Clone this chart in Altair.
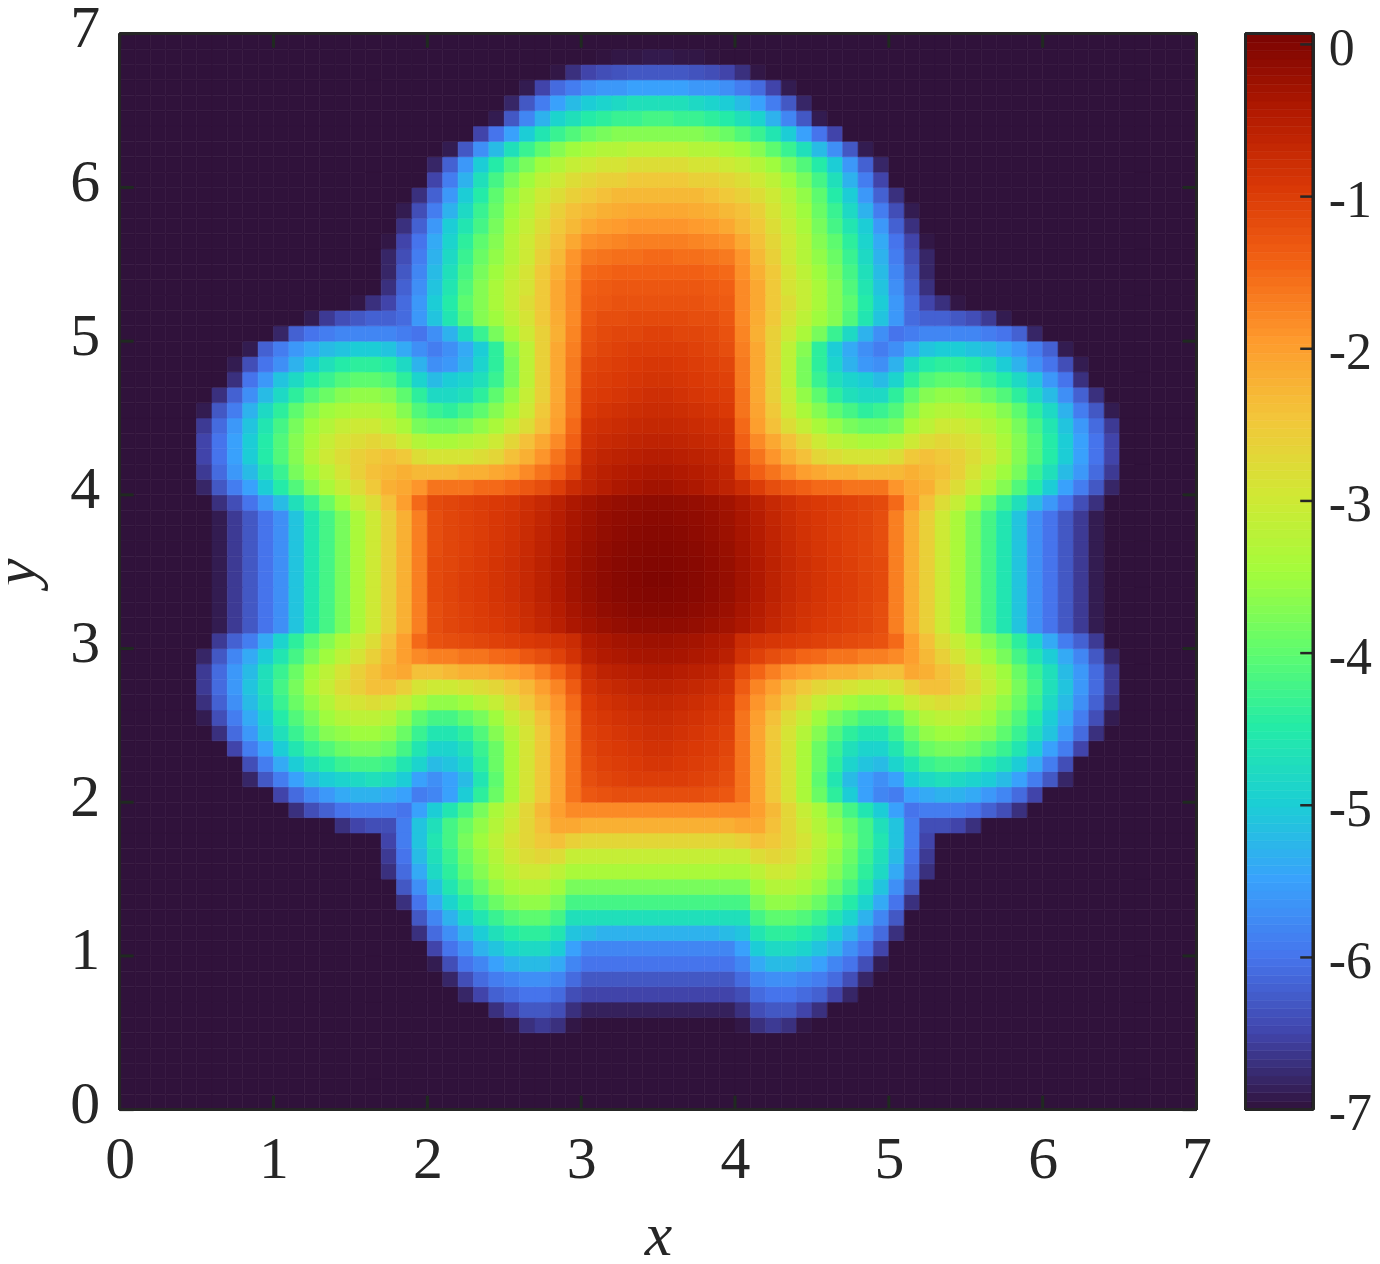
import altair as alt
import numpy as np
import pandas as pd

# Values on a 0.1 grid. Each row runs rightwards and ends at x = 3.45;
# cells left of its first entry are background. The field is mirrored about x = 3.5.
BACKGROUND = -7.0
field_rows = {
 6.85: [-6.98,-6.95,-6.95,-6.92],
 6.75: [-6.95,-6.7,-6.5,-6.4,-6.35,-6.3,-6.3],
 6.65: [-6.9,-6.5,-6.1,-5.9,-5.7,-5.6,-5.6,-5.5,-5.5],
 6.55: [-6.8,-6.3,-5.9,-5.5,-5.2,-5.0,-4.9,-4.8,-4.7,-4.7],
 6.45: [-6.9,-6.3,-5.8,-5.3,-4.9,-4.7,-4.5,-4.4,-4.3,-4.3,-4.2],
 6.35: [-7.0,-6.5,-6.0,-5.5,-5.0,-4.6,-4.3,-4.1,-3.9,-3.8,-3.7,-3.7,-3.7],
 6.25: [-6.9,-6.3,-5.7,-5.2,-4.7,-4.3,-4.0,-3.7,-3.5,-3.4,-3.3,-3.3,-3.2,-3.2],
 6.15: [-6.8,-6.2,-5.6,-5.0,-4.5,-4.1,-3.8,-3.5,-3.3,-3.1,-3.0,-2.9,-2.9,-2.8,-2.8],
 6.05: [-6.5,-5.9,-5.3,-4.7,-4.2,-3.8,-3.5,-3.2,-3.0,-2.8,-2.7,-2.6,-2.6,-2.5,-2.5],
 5.95: [-6.7,-6.2,-5.6,-5.0,-4.5,-4.0,-3.6,-3.3,-3.0,-2.8,-2.6,-2.5,-2.4,-2.3,-2.3,-2.3],
 5.85: [-6.9,-6.4,-5.9,-5.3,-4.8,-4.3,-3.9,-3.5,-3.2,-2.9,-2.6,-2.4,-2.3,-2.2,-2.15,-2.1,-2.1],
 5.75: [-6.7,-6.2,-5.6,-5.0,-4.6,-4.2,-3.8,-3.4,-3.1,-2.8,-2.5,-2.3,-2.1,-2.0,-1.95,-1.9,-1.9],
 5.65: [-6.95,-6.5,-6.0,-5.4,-4.9,-4.4,-4.0,-3.7,-3.3,-3.0,-2.7,-2.4,-2.1,-1.85,-1.8,-1.75,-1.7,-1.7],
 5.55: [-6.8,-6.4,-5.9,-5.3,-4.8,-4.3,-3.9,-3.6,-3.3,-3.0,-2.6,-2.3,-1.9,-1.65,-1.6,-1.55,-1.55,-1.5],
 5.45: [-6.8,-6.3,-5.8,-5.2,-4.7,-4.2,-3.8,-3.5,-3.2,-2.9,-2.5,-2.2,-1.85,-1.5,-1.45,-1.4,-1.4,-1.4],
 5.35: [-7.0,-6.7,-6.2,-5.7,-5.1,-4.6,-4.1,-3.7,-3.4,-3.1,-2.9,-2.5,-2.1,-1.8,-1.4,-1.35,-1.3,-1.3,-1.3],
 5.25: [-6.95,-6.7,-6.5,-6.1,-5.6,-5.0,-4.5,-4.0,-3.7,-3.4,-3.1,-2.8,-2.5,-2.1,-1.8,-1.35,-1.3,-1.25,-1.25,-1.25],
 5.15: [-6.9,-6.6,-6.4,-6.3,-6.2,-6.2,-6.1,-5.6,-5.1,-4.6,-4.1,-3.7,-3.5,-3.2,-2.9,-2.5,-2.15,-1.8,-1.3,-1.2,-1.2,-1.15,-1.15],
 5.05: [-6.8,-6.2,-6.0,-5.9,-5.8,-5.8,-5.8,-5.8,-5.9,-6.0,-5.7,-5.3,-4.8,-4.3,-3.8,-3.4,-3.0,-2.6,-2.2,-1.75,-1.25,-1.15,-1.1,-1.1,-1.05],
 4.95: [-6.9,-6.2,-5.9,-5.6,-5.4,-5.2,-5.1,-5.0,-5.0,-5.1,-5.4,-5.7,-5.9,-5.7,-5.4,-5.0,-4.4,-3.7,-3.2,-2.6,-2.1,-1.7,-1.2,-1.1,-1.05,-1.0,-1.0],
 4.85: [-6.9,-6.4,-6.0,-5.7,-5.3,-5.0,-4.7,-4.5,-4.4,-4.4,-4.5,-4.8,-5.3,-5.7,-5.6,-5.3,-4.9,-4.4,-3.8,-3.2,-2.6,-2.1,-1.65,-1.1,-1.05,-1.0,-0.95,-0.92],
 4.75: [-6.7,-6.0,-5.6,-5.1,-4.8,-4.5,-4.3,-4.1,-4.0,-4.0,-4.1,-4.4,-4.9,-5.2,-5.0,-4.9,-4.7,-4.3,-3.8,-3.2,-2.6,-2.1,-1.65,-1.05,-1.0,-0.95,-0.9,-0.87],
 4.65: [-6.7,-6.2,-5.7,-5.2,-4.8,-4.4,-4.1,-3.9,-3.7,-3.6,-3.6,-3.7,-4.0,-4.4,-4.8,-4.8,-4.7,-4.4,-4.0,-3.6,-3.1,-2.6,-2.1,-1.6,-1.0,-0.95,-0.9,-0.85,-0.8],
 4.55: [-6.9,-6.3,-5.9,-5.3,-4.8,-4.4,-4.0,-3.7,-3.5,-3.4,-3.3,-3.3,-3.4,-3.7,-4.1,-4.3,-4.4,-4.2,-4.0,-3.7,-3.4,-3.0,-2.5,-2.05,-1.6,-0.95,-0.88,-0.83,-0.78,-0.75],
 4.45: [-6.6,-6.1,-5.6,-5.1,-4.6,-4.2,-3.8,-3.5,-3.3,-3.1,-3.0,-3.0,-3.2,-3.4,-3.8,-3.9,-3.9,-3.8,-3.6,-3.4,-3.1,-2.8,-2.4,-2.0,-1.5,-0.85,-0.8,-0.75,-0.7,-0.68],
 4.35: [-6.5,-6.0,-5.5,-5.0,-4.5,-4.1,-3.7,-3.4,-3.1,-2.9,-2.8,-2.7,-2.8,-3.0,-3.3,-3.4,-3.4,-3.3,-3.2,-3.0,-2.7,-2.4,-2.1,-1.8,-1.4,-0.8,-0.72,-0.68,-0.63,-0.6],
 4.25: [-6.5,-6.0,-5.5,-5.0,-4.5,-4.1,-3.7,-3.3,-3.0,-2.8,-2.6,-2.5,-2.4,-2.5,-2.8,-2.9,-2.9,-2.9,-2.8,-2.7,-2.4,-2.2,-1.9,-1.6,-1.25,-0.72,-0.63,-0.58,-0.54,-0.5],
 4.15: [-6.6,-6.1,-5.6,-5.2,-4.7,-4.3,-3.8,-3.5,-3.2,-2.9,-2.6,-2.4,-2.3,-2.2,-2.3,-2.3,-2.3,-2.2,-2.2,-2.1,-2.0,-1.8,-1.6,-1.4,-1.1,-0.65,-0.55,-0.48,-0.44,-0.4],
 4.05: [-6.8,-6.3,-5.9,-5.5,-5.0,-4.5,-4.1,-3.7,-3.4,-3.1,-2.8,-2.5,-2.2,-2.1,-1.9,-1.6,-1.6,-1.6,-1.5,-1.5,-1.4,-1.3,-1.2,-1.0,-0.75,-0.6,-0.5,-0.4,-0.35,-0.3],
 3.95: [-6.7,-6.4,-6.0,-5.6,-5.2,-4.7,-4.3,-3.9,-3.5,-3.1,-2.8,-2.4,-2.0,-1.5,-1.15,-1.1,-1.05,-1.0,-0.95,-0.9,-0.8,-0.7,-0.55,-0.4,-0.3,-0.22,-0.18,-0.14,-0.12],
 3.85: [-6.9,-6.6,-6.3,-6.0,-5.7,-5.1,-4.6,-4.2,-3.8,-3.4,-3.0,-2.6,-2.2,-1.7,-1.2,-1.1,-1.05,-1.0,-0.93,-0.86,-0.76,-0.65,-0.5,-0.36,-0.26,-0.18,-0.13,-0.1,-0.08],
 3.75: [-6.9,-6.6,-6.3,-6.0,-5.7,-5.1,-4.6,-4.2,-3.8,-3.4,-3.0,-2.6,-2.2,-1.7,-1.2,-1.1,-1.05,-1.0,-0.92,-0.85,-0.74,-0.62,-0.48,-0.34,-0.24,-0.16,-0.11,-0.07,-0.05],
 3.65: [-6.9,-6.6,-6.3,-6.0,-5.7,-5.1,-4.6,-4.2,-3.8,-3.4,-3.0,-2.6,-2.2,-1.7,-1.2,-1.1,-1.05,-0.98,-0.9,-0.83,-0.72,-0.6,-0.46,-0.32,-0.21,-0.13,-0.08,-0.04,-0.02],
 3.55: [-6.9,-6.6,-6.3,-6.0,-5.7,-5.1,-4.6,-4.2,-3.8,-3.4,-3.0,-2.6,-2.2,-1.7,-1.15,-1.1,-1.02,-0.96,-0.88,-0.8,-0.7,-0.58,-0.44,-0.3,-0.19,-0.11,-0.06,-0.02,0.0],
 3.45: [-6.9,-6.6,-6.3,-6.0,-5.7,-5.1,-4.6,-4.2,-3.8,-3.4,-3.0,-2.6,-2.2,-1.7,-1.15,-1.08,-1.0,-0.95,-0.87,-0.8,-0.7,-0.58,-0.43,-0.29,-0.18,-0.1,-0.05,-0.01,0.02],
 3.35: [-6.9,-6.6,-6.3,-6.0,-5.7,-5.1,-4.6,-4.2,-3.8,-3.4,-3.0,-2.6,-2.2,-1.7,-1.15,-1.08,-1.0,-0.95,-0.88,-0.8,-0.7,-0.58,-0.44,-0.3,-0.19,-0.11,-0.06,-0.02,0.0],
 3.25: [-6.9,-6.6,-6.3,-6.0,-5.7,-5.1,-4.6,-4.2,-3.8,-3.4,-3.0,-2.6,-2.2,-1.7,-1.2,-1.1,-1.03,-0.98,-0.9,-0.84,-0.74,-0.62,-0.48,-0.34,-0.23,-0.15,-0.1,-0.06,-0.04],
 3.15: [-6.9,-6.6,-6.3,-6.0,-5.7,-5.1,-4.6,-4.2,-3.8,-3.4,-3.0,-2.6,-2.2,-1.7,-1.2,-1.1,-1.05,-1.0,-0.95,-0.88,-0.78,-0.67,-0.53,-0.39,-0.3,-0.22,-0.17,-0.13,-0.12],
 3.05: [-7.0,-6.6,-6.2,-5.9,-5.4,-4.9,-4.4,-4.0,-3.7,-3.4,-3.1,-2.8,-2.4,-2.0,-1.5,-1.25,-1.2,-1.15,-1.1,-1.05,-1.0,-0.95,-0.9,-0.85,-0.75,-0.45,-0.38,-0.32,-0.28,-0.25],
 2.95: [-6.8,-6.3,-5.8,-5.4,-5.0,-4.6,-4.2,-3.8,-3.5,-3.2,-2.9,-2.6,-2.3,-2.0,-1.8,-1.7,-1.7,-1.6,-1.6,-1.5,-1.45,-1.3,-1.2,-1.05,-0.85,-0.55,-0.45,-0.4,-0.35,-0.33],
 2.85: [-6.6,-6.1,-5.6,-5.2,-4.7,-4.3,-3.9,-3.5,-3.2,-2.9,-2.6,-2.4,-2.2,-2.1,-2.4,-2.4,-2.3,-2.2,-2.2,-2.1,-2.0,-1.9,-1.7,-1.45,-1.15,-0.75,-0.6,-0.55,-0.5,-0.45],
 2.75: [-6.6,-6.1,-5.6,-5.1,-4.7,-4.2,-3.8,-3.4,-3.1,-2.8,-2.6,-2.4,-2.4,-2.6,-2.9,-3.0,-3.0,-2.9,-2.8,-2.7,-2.5,-2.3,-2.0,-1.75,-1.35,-0.85,-0.75,-0.68,-0.62,-0.58],
 2.65: [-6.7,-6.2,-5.7,-5.2,-4.8,-4.3,-3.9,-3.6,-3.3,-3.0,-2.9,-2.8,-2.9,-3.1,-3.4,-3.6,-3.6,-3.5,-3.3,-3.1,-2.8,-2.5,-2.2,-1.9,-1.5,-0.95,-0.85,-0.78,-0.72,-0.68],
 2.55: [-6.9,-6.4,-5.9,-5.4,-5.0,-4.5,-4.1,-3.8,-3.5,-3.3,-3.2,-3.2,-3.3,-3.6,-4.0,-4.2,-4.2,-4.0,-3.8,-3.5,-3.1,-2.8,-2.4,-2.0,-1.6,-1.0,-0.92,-0.85,-0.8,-0.75],
 2.45: [-6.7,-6.1,-5.6,-5.1,-4.7,-4.3,-4.0,-3.7,-3.6,-3.5,-3.5,-3.6,-3.9,-4.3,-4.6,-4.6,-4.4,-4.1,-3.7,-3.3,-2.9,-2.5,-2.05,-1.6,-1.05,-0.97,-0.9,-0.85,-0.8],
 2.35: [-7.0,-6.5,-5.9,-5.5,-5.0,-4.6,-4.3,-4.1,-3.9,-3.8,-3.8,-3.9,-4.2,-4.6,-4.9,-4.9,-4.7,-4.3,-3.9,-3.4,-2.9,-2.5,-2.05,-1.6,-1.1,-1.0,-0.95,-0.9,-0.85],
 2.25: [-7.0,-6.4,-5.9,-5.4,-5.0,-4.7,-4.5,-4.3,-4.2,-4.2,-4.3,-4.6,-4.9,-5.2,-5.1,-4.9,-4.4,-3.9,-3.4,-2.9,-2.5,-2.05,-1.6,-1.15,-1.05,-1.0,-0.95,-0.9],
 2.15: [-6.8,-6.3,-5.9,-5.5,-5.2,-5.0,-4.9,-4.8,-4.7,-4.8,-5.0,-5.5,-5.7,-5.5,-5.2,-4.6,-4.0,-3.4,-2.9,-2.5,-2.05,-1.6,-1.2,-1.1,-1.05,-1.0,-1.0],
 2.05: [-7.0,-6.5,-6.1,-5.8,-5.6,-5.4,-5.3,-5.3,-5.4,-5.5,-5.9,-5.8,-5.5,-5.0,-4.4,-3.9,-3.4,-2.9,-2.5,-2.05,-1.6,-1.3,-1.25,-1.2,-1.2,-1.2],
 1.95: [-6.7,-6.4,-6.2,-6.0,-5.9,-5.9,-5.9,-6.0,-5.5,-5.0,-4.6,-4.2,-3.8,-3.4,-3.1,-2.7,-2.3,-2.0,-1.8,-1.8,-1.8,-1.8,-1.8,-1.8],
 1.85: [-7.0,-6.7,-6.5,-6.4,-6.4,-5.9,-5.1,-4.7,-4.2,-3.9,-3.6,-3.3,-3.0,-2.7,-2.4,-2.1,-2.1,-2.2,-2.2,-2.2,-2.2,-2.2],
 1.75: [-6.5,-5.9,-5.1,-4.6,-4.2,-3.8,-3.5,-3.2,-2.9,-2.7,-2.5,-2.4,-2.6,-2.7,-2.7,-2.7,-2.7,-2.7],
 1.65: [-6.6,-6.0,-5.2,-4.7,-4.3,-3.9,-3.6,-3.3,-3.0,-2.8,-2.7,-2.8,-3.1,-3.1,-3.1,-3.1,-3.1,-3.1],
 1.55: [-6.7,-6.1,-5.4,-4.8,-4.4,-4.0,-3.7,-3.4,-3.2,-3.0,-3.0,-3.2,-3.4,-3.4,-3.4,-3.4,-3.4,-3.4],
 1.45: [-7.0,-6.3,-5.7,-5.1,-4.6,-4.2,-3.9,-3.6,-3.4,-3.3,-3.3,-3.5,-3.8,-3.8,-3.8,-3.8,-3.8,-3.8],
 1.35: [-6.7,-6.0,-5.4,-4.9,-4.5,-4.2,-3.9,-3.7,-3.6,-3.6,-3.8,-4.2,-4.2,-4.2,-4.2,-4.2,-4.2],
 1.25: [-7.0,-6.3,-5.8,-5.3,-4.9,-4.6,-4.3,-4.1,-4.0,-4.0,-4.2,-4.7,-4.7,-4.7,-4.7,-4.7,-4.7],
 1.15: [-6.7,-6.1,-5.7,-5.3,-5.0,-4.7,-4.5,-4.4,-4.4,-4.6,-5.1,-5.2,-5.3,-5.3,-5.3,-5.3],
 1.05: [-7.0,-6.5,-6.0,-5.7,-5.3,-5.1,-4.9,-4.8,-4.8,-5.0,-5.5,-5.8,-5.8,-5.8,-5.8,-5.8],
 0.95: [-6.9,-6.4,-6.0,-5.8,-5.5,-5.3,-5.2,-5.2,-5.4,-5.8,-6.0,-6.0,-6.0,-6.0,-6.0],
 0.85: [-6.8,-6.4,-6.1,-5.9,-5.8,-5.7,-5.7,-5.8,-6.1,-6.3,-6.3,-6.3,-6.3,-6.3],
 0.75: [-6.8,-6.5,-6.2,-6.1,-6.0,-6.0,-6.1,-6.4,-6.5,-6.5,-6.5,-6.5,-6.5],
 0.65: [-7.0,-6.7,-6.5,-6.3,-6.3,-6.4,-6.7,-6.85,-6.85,-6.85,-6.85,-6.85],
 0.55: [-6.95,-6.7,-6.6,-6.7,-6.95,-7.0,-7.0,-7.0,-7.0,-7.0],
}
tick_values = [0, 1, 2, 3, 4, 5, 6, 7]
colorbar_ticks = [0, -1, -2, -3, -4, -5, -6, -7]
color_min, color_max = -7, 0.07
turbo_colors = ["#30123b", "#4145ab", "#4675ed", "#39a2fc", "#1bcfd4", "#24eca6", "#61fc6c", "#a4fc3b",
                "#d1e834", "#f3c63a", "#fe9b2d", "#f36315", "#d93806", "#b11901", "#7a0402"]
color_stops = list(np.linspace(color_min, color_max, len(turbo_colors)))
INK = "#262626"
FONT = "Liberation Serif"
PLOT_W, PLOT_H = 1080, 1079

records = []
half_cols = 35
for iy in range(70):
    yc = round(0.05 + 0.1 * iy, 2)
    row = field_rows.get(yc, [])
    full = [BACKGROUND] * (half_cols - len(row)) + list(row)
    full = full + full[::-1]
    for ix, v in enumerate(full):
        records.append({"x0": round(0.1 * ix, 1), "x1": round(0.1 * (ix + 1), 1),
                        "y0": round(yc - 0.05, 2), "y1": round(yc + 0.05, 2), "v": v})
field_df = pd.DataFrame(records)

color_scale = alt.Scale(domain=color_stops, range=turbo_colors, clamp=True, interpolate="rgb")
x_scale = alt.Scale(domain=[0, 7], nice=False, zero=False)
y_scale = alt.Scale(domain=[0, 7], nice=False, zero=False)

heat = alt.Chart(field_df).mark_rect(strokeWidth=0.6).encode(
    x=alt.X("x0:Q", scale=x_scale, axis=alt.Axis(
        values=tick_values, format="d", title="x", tickSize=0, domain=False, grid=False,
        labelFont=FONT, labelFontSize=60, labelColor=INK, labelPadding=21,
        titleFont=FONT, titleFontSize=62, titleFontStyle="italic", titleFontWeight="normal",
        titleColor=INK, titleY=96, labelFlush=False, labelOverlap=False)),
    x2="x1:Q",
    y=alt.Y("y0:Q", scale=y_scale, axis=alt.Axis(
        values=tick_values, format="d", title="y", tickSize=0, domain=False, grid=False,
        labelFont=FONT, labelFontSize=60, labelColor=INK, labelPadding=20, labelOffset=-5,
        titleFont=FONT, titleFontSize=62, titleFontStyle="italic", titleFontWeight="normal",
        titleColor=INK, titleX=-85, titleBaseline="alphabetic", labelFlush=False, labelOverlap=False)),
    y2="y1:Q",
    color=alt.Color("v:Q", scale=color_scale, legend=None),
    stroke=alt.Stroke("v:Q", scale=color_scale, legend=None),
)

tick_df = pd.DataFrame({"t": tick_values})
TL = 14
def frame_and_ticks():
    base = alt.Chart(tick_df).mark_rule(color="#1f2a20", strokeWidth=3)
    return [
        base.encode(x=alt.X("t:Q", scale=x_scale), y=alt.value(PLOT_H), y2=alt.value(PLOT_H - TL)),
        base.encode(x=alt.X("t:Q", scale=x_scale), y=alt.value(0), y2=alt.value(TL)),
        base.encode(y=alt.Y("t:Q", scale=y_scale), x=alt.value(0), x2=alt.value(TL)),
        base.encode(y=alt.Y("t:Q", scale=y_scale), x=alt.value(PLOT_W), x2=alt.value(PLOT_W - TL)),
        alt.Chart(tick_df).mark_rule(color=INK, strokeWidth=2.5).encode(x=alt.datum(0, scale=x_scale)),
        alt.Chart(tick_df).mark_rule(color=INK, strokeWidth=2.5).encode(x=alt.datum(7, scale=x_scale)),
        alt.Chart(tick_df).mark_rule(color=INK, strokeWidth=2.5).encode(y=alt.datum(0, scale=y_scale)),
        alt.Chart(tick_df).mark_rule(color=INK, strokeWidth=2.5).encode(y=alt.datum(7, scale=y_scale)),
    ]

main = alt.layer(heat, *frame_and_ticks()).properties(width=PLOT_W, height=PLOT_H)

# Colour bar: the colour scale swept over its whole domain
levels = np.linspace(color_min, color_max, 129)
bar_df = pd.DataFrame({"lo": levels[:-1], "hi": levels[1:], "mid": (levels[:-1] + levels[1:]) / 2})
bar_scale = alt.Scale(domain=[color_min, color_max], nice=False, zero=False)
BAR_W = 68
bar = alt.Chart(bar_df).mark_rect(strokeWidth=0.6).encode(
    x=alt.value(0), x2=alt.value(BAR_W),
    y=alt.Y("lo:Q", scale=bar_scale, axis=alt.Axis(
        orient="right", values=colorbar_ticks, title=None, tickSize=0, domain=False, grid=False,
        labelFont=FONT, labelFontSize=52, labelColor=INK, labelPadding=15, labelOffset=4,
        labelAlign="left", labelFlush=False, labelOverlap=False,
        labelExpr="'' + datum.value")),
    y2="hi:Q",
    color=alt.Color("mid:Q", scale=color_scale, legend=None),
    stroke=alt.Stroke("mid:Q", scale=color_scale, legend=None),
)
bar_tick_df = pd.DataFrame({"t": colorbar_ticks})
bar_ticks = alt.Chart(bar_tick_df).mark_rule(color=INK, strokeWidth=2.5).encode(
    y=alt.Y("t:Q", scale=bar_scale), x=alt.value(BAR_W - 13), x2=alt.value(BAR_W))
bar_frame = [
    alt.Chart(bar_tick_df).mark_rule(color=INK, strokeWidth=2.5).encode(x=alt.value(0), y=alt.value(0), y2=alt.value(PLOT_H)),
    alt.Chart(bar_tick_df).mark_rule(color=INK, strokeWidth=2.5).encode(x=alt.value(BAR_W), y=alt.value(0), y2=alt.value(PLOT_H)),
    alt.Chart(bar_tick_df).mark_rule(color=INK, strokeWidth=2.5).encode(y=alt.value(0), x=alt.value(0), x2=alt.value(BAR_W)),
    alt.Chart(bar_tick_df).mark_rule(color=INK, strokeWidth=2.5).encode(y=alt.value(PLOT_H), x=alt.value(0), x2=alt.value(BAR_W)),
]
colorbar = alt.layer(bar, bar_ticks, *bar_frame).properties(width=BAR_W, height=PLOT_H)

chart = alt.hconcat(main, colorbar, spacing=31).resolve_scale(
    color="independent", stroke="independent"
).configure_view(stroke=None).configure(background="white", padding={"left": -24, "right": 0, "top": -12, "bottom": 0})

chart.save("out.html", embed_options={"renderer": "svg", "actions": False})
